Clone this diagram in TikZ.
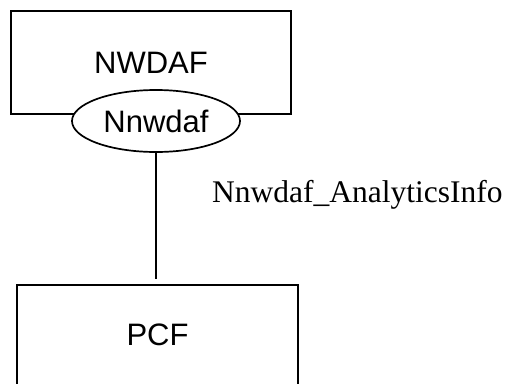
\documentclass[tikz,border=0pt]{standalone}
\usepackage{fontspec}
\setmainfont{Liberation Serif}
\newfontfamily\arialfont{Liberation Sans}
\usetikzlibrary{shapes.geometric}
\begin{document}
\begin{tikzpicture}[x=1pt,y=-1pt,
  nfbox/.style={draw=black,line width=2pt,rectangle,inner sep=0pt,font=\arialfont\fontsize{31}{37}\selectfont},
  svc/.style={draw=black,line width=1.7pt,ellipse,fill=white,inner sep=0pt,font=\arialfont\fontsize{31}{37}\selectfont},
  link/.style={draw=black,line width=1.8pt}]
\useasboundingbox (0,0) rectangle (508,383);
\node[nfbox,minimum width=280pt,minimum height=103pt] (nwdaf) at (151,62.5) {NWDAF};
\node[svc,minimum width=168pt,minimum height=62pt] (nnwdaf) at (156,121) {Nnwdaf};
\node[nfbox,minimum width=281pt,minimum height=100pt] (pcf) at (157.5,335) {PCF};
\draw[link,shorten >=5pt] (nnwdaf.south) -- (nnwdaf.south |- pcf.north);
\node[anchor=base west,inner sep=0pt,font=\fontsize{31.5}{38}\selectfont] (lbl) at (212,202) {Nnwdaf\_AnalyticsInfo};
\end{tikzpicture}
\end{document}
